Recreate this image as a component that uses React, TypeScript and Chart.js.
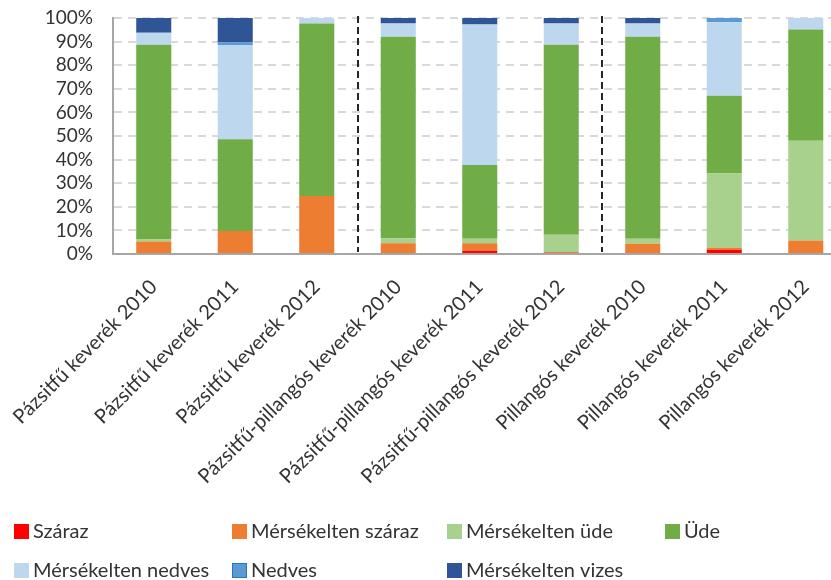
import { useEffect, useRef } from "react";
import { Chart, registerables } from "chart.js";

Chart.register(...registerables);

const categories = [
  "Pázsitfű keverék 2010",
  "Pázsitfű keverék 2011",
  "Pázsitfű keverék 2012",
  "Pázsitfű-pillangós keverék 2010",
  "Pázsitfű-pillangós keverék 2011",
  "Pázsitfű-pillangós keverék 2012",
  "Pillangós keverék 2010",
  "Pillangós keverék 2011",
  "Pillangós keverék 2012",
];

const szaraz = [0, 0, 0, 0, 1.4, 0, 0, 1.8, 0];
const mersekeltenSzaraz = [5.3, 9.7, 24.6, 4.6, 3.2, 0.9, 4.3, 0.8, 5.7];
const mersekeltenUde = [0.8, 0, 0, 2.1, 1.9, 7.3, 2.2, 31.5, 42.3];
const ude = [82.6, 38.9, 73.1, 85.4, 31.2, 80.5, 85.6, 33.0, 47.1];
const mersekeltenNedves = [5.1, 40.0, 2.3, 5.6, 59.5, 9.0, 5.6, 31.1, 4.9];
const nedves = [0, 1.0, 0, 0, 0, 0, 0, 1.8, 0];
const mersekeltenVizes = [6.2, 10.4, 0, 2.3, 2.8, 2.3, 2.3, 0, 0];

const seriesNames = [
  "Száraz",
  "Mérsékelten száraz",
  "Mérsékelten üde",
  "Üde",
  "Mérsékelten nedves",
  "Nedves",
  "Mérsékelten vizes",
];
const seriesColors = ["#ff0000", "#ed7d31", "#a9d18e", "#70ad47", "#bdd7ee", "#5b9bd5", "#2f5597"];
const seriesBorders = ["#ff0000", "#ed7d31", "#a9d18e", "#70ad47", "#bdd7ee", "#2e75b6", "#2f5597"];

const yTicks = [0, 10, 20, 30, 40, 50, 60, 70, 80, 90, 100];
const groupSeparatorsAfter = [2, 5];

const FONT = "Lato";
const TEXT = "#333333";

// legend layout (column x, row y)
const legendCols = [14, 232, 447, 665];
const legendRows = [531, 570];

export default function App() {
  const ref = useRef<HTMLCanvasElement | null>(null);

  useEffect(() => {
    if (!ref.current) return;
    const allData = [szaraz, mersekeltenSzaraz, mersekeltenUde, ude, mersekeltenNedves, nedves, mersekeltenVizes];

    const separators = {
      id: "separators",
      afterDatasetsDraw(chart: any) {
        const { ctx, chartArea } = chart;
        const xs = chart.scales.x;
        ctx.save();
        ctx.strokeStyle = "#262626";
        ctx.lineWidth = 2;
        ctx.setLineDash([7, 4]);
        groupSeparatorsAfter.forEach((i) => {
          const x = Math.round((xs.getPixelForValue(i) + xs.getPixelForValue(i + 1)) / 2);
          ctx.beginPath();
          ctx.moveTo(x, chartArea.top - 2);
          ctx.lineTo(x, chartArea.bottom - 2);
          ctx.stroke();
        });
        ctx.restore();
      },
    };

    const legend = {
      id: "customLegend",
      afterDraw(chart: any) {
        const { ctx } = chart;
        ctx.save();
        ctx.font = `20px ${FONT}`;
        ctx.textBaseline = "middle";
        ctx.textAlign = "left";
        seriesNames.forEach((name, i) => {
          const col = i < 4 ? i : i - 4;
          const row = i < 4 ? 0 : 1;
          const x = legendCols[col];
          const y = legendRows[row];
          ctx.fillStyle = seriesColors[i];
          ctx.fillRect(x, y - 7, 15, 15);
          ctx.strokeStyle = seriesBorders[i];
          ctx.lineWidth = 1;
          ctx.strokeRect(x + 0.5, y - 6.5, 14, 14);
          ctx.fillStyle = TEXT;
          ctx.fillText(name, x + 19, y + 1);
        });
        ctx.restore();
      },
    };

    const chart = new Chart(ref.current, {
      type: "bar",
      data: {
        labels: categories,
        datasets: seriesNames.map((name, i) => ({
          label: name,
          data: allData[i],
          backgroundColor: seriesColors[i],
          borderColor: seriesBorders[i],
          borderWidth: 0,
          barPercentage: 0.43,
          categoryPercentage: 1,
        })),
      },
      options: {
        responsive: false,
        animation: false,
        layout: { padding: { left: 0, right: 3.5, top: 18, bottom: 76 } },
        plugins: { legend: { display: false }, tooltip: { enabled: false } },
        scales: {
          x: {
            stacked: true,
            afterFit: (s: any) => {
              s.height = 250;
              s.paddingLeft = 0;
              s.paddingRight = 0;
            },
            grid: { display: false, drawTicks: false },
            border: { display: true, color: "#a6a6a6", width: 2 },
            ticks: {
              autoSkip: false,
              minRotation: 45,
              maxRotation: 45,
              padding: 21,
              color: TEXT,
              font: { family: FONT, size: 20 },
            },
          },
          y: {
            stacked: true,
            min: 0,
            max: 100,
            afterFit: (s: any) => {
              s.width = 113;
              s.paddingTop = 0;
              s.paddingBottom = 0;
            },
            afterBuildTicks: (s: any) => {
              s.ticks = yTicks.map((v) => ({ value: v }));
            },
            grid: {
              drawTicks: false,
              lineWidth: 2,
              color: (c: any) => (c.tick && c.tick.value === 0 ? "rgba(0,0,0,0)" : "#d9d9d9"),
            },
            border: { display: true, color: "#a6a6a6", width: 2, dash: [8, 6] },
            ticks: {
              autoSkip: false,
              padding: 20,
              color: TEXT,
              font: { family: FONT, size: 19 },
              callback: (v: any) => `${v}%`,
            },
          },
        },
      },
      plugins: [separators, legend],
    });
    return () => chart.destroy();
  }, []);

  return (
    <div
      style={{
        position: "fixed",
        left: 0,
        top: 0,
        width: 831,
        height: 580,
        overflow: "hidden",
        background: "#fff",
      }}
    >
      <canvas ref={ref} width={850} height={580} style={{ display: "block" }} />
    </div>
  );
}
